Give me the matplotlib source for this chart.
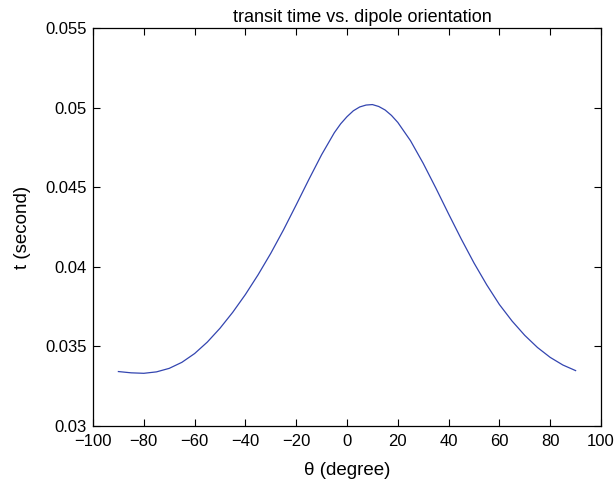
import matplotlib
matplotlib.use("Agg")
import matplotlib.pyplot as plt
from matplotlib.ticker import FuncFormatter

theta = [-90, -85, -80, -75, -70, -65, -60, -55, -50, -45, -40, -35, -30, -25,
         -20, -15, -10, -5, -2.5, 0, 2.5, 5, 7.5, 10, 12.5, 15, 17.5, 20, 25,
         30, 35, 40, 45, 50, 55, 60, 65, 70, 75, 80, 85, 90]
t_sec = [0.03342, 0.03334, 0.03331, 0.03340, 0.03362, 0.03400, 0.03455,
         0.03527, 0.03614, 0.03714, 0.03826, 0.03950, 0.04085, 0.04232,
         0.04389, 0.04549, 0.04704, 0.04842, 0.04898, 0.04943, 0.04980,
         0.05004, 0.05016, 0.05019, 0.05007, 0.04985, 0.04951, 0.04907,
         0.04792, 0.04650, 0.04494, 0.04332, 0.04174, 0.04024, 0.03887,
         0.03763, 0.03659, 0.03569, 0.03493, 0.03431, 0.03383, 0.03348]
xticks = [-100, -80, -60, -40, -20, 0, 20, 40, 60, 80, 100]
yticks = [0.03, 0.035, 0.04, 0.045, 0.05, 0.055]

plt.rcParams['font.family'] = ['Liberation Sans', 'DejaVu Sans']
fig = plt.figure(figsize=(6.14, 4.86), dpi=100)
ax = fig.add_axes([93/614, 60/486, 508/614, 398/486])
ax.plot(theta, t_sec, color='#3345b0', lw=0.9)
ax.set_xlim(-100, 100)
ax.set_ylim(0.03, 0.055)
ax.set_xticks(xticks)
ax.set_yticks(yticks)
ax.yaxis.set_major_formatter(FuncFormatter(lambda v, p: f"{v:g}"))
ax.tick_params(direction='in', top=True, right=True, length=5, width=0.8,
               labelsize=12)
ax.tick_params(axis='y', pad=4.5)
ax.tick_params(axis='x', pad=6)
for s in ax.spines.values():
    s.set_linewidth(0.9)
ax.set_title('transit time vs. dipole orientation', fontsize=13, pad=4, x=0.53)
ax.set_xlabel('θ (degree)', fontsize=13.5, labelpad=9)
ax.set_ylabel('t (second)', fontsize=13.5, labelpad=10)
fig.savefig('out.png', dpi=100)
